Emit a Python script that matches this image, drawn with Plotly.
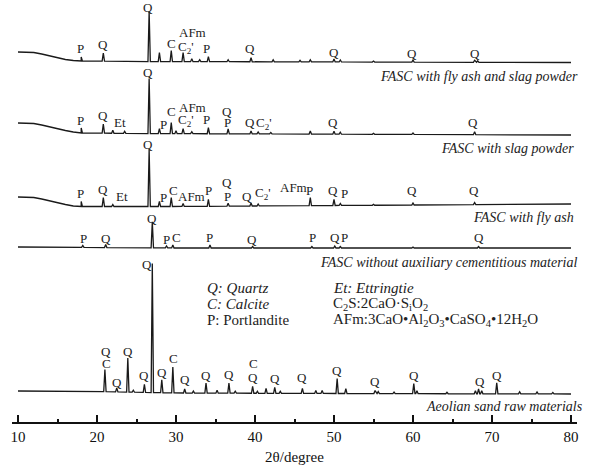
import numpy as np
import plotly.graph_objects as go

# ---------------- data (2θ in degrees, intensity in arbitrary stacked units) ----------------
tick_vals = [10, 20, 30, 40, 50, 60, 70, 80]

# 1) FASC with fly ash and slag powder
fs_base_x = [10, 12, 13, 14, 15, 16, 17, 18, 25, 80]
fs_base_y = [370, 369.5, 368, 366, 364, 362.5, 361.5, 361, 360.5, 359.5]
fs_peak_x = [18.0, 20.8, 26.6, 27.9, 29.4, 30.9, 32.0, 33.0, 34.1, 36.6, 39.5, 42.3, 45.7, 47.0, 50.0, 50.8, 55.0, 60.0, 67.8, 68.2]
fs_peak_h = [4, 8, 50, 9, 11, 9, 3, 2, 5, 2, 4, 2, 1.5, 2, 3, 2, 1, 2, 2, 1.5]

# 2) FASC with slag powder
sp_base_x = [10, 12, 13, 14, 15, 16, 17, 18, 25, 80]
sp_base_y = [299, 298.5, 297, 295, 293, 291.5, 290, 289, 288.5, 287]
sp_peak_x = [18.0, 20.8, 22.0, 23.5, 26.6, 27.9, 29.4, 30.0, 30.9, 32.0, 34.1, 36.6, 39.5, 40.4, 42.0, 47.0, 50.0, 50.8, 55.0, 60.0, 67.8]
sp_peak_h = [5, 9, 3, 2, 55, 5, 11, 3, 5, 2, 6, 5, 3, 2, 1.5, 3, 3, 2, 1, 1.5, 3]

# 3) FASC with fly ash
fa_base_x = [10, 12, 13, 14, 15, 16, 17, 18, 30, 80]
fa_base_y = [225, 224.5, 223, 221, 219, 217.5, 216, 215.5, 215.5, 218]
fa_peak_x = [18.0, 20.8, 22.0, 26.6, 27.9, 29.4, 30.9, 34.1, 36.6, 39.5, 40.4, 47.0, 50.0, 50.8, 55.0, 60.0, 67.8]
fa_peak_h = [5, 9, 2, 57, 5, 9, 3, 7, 3, 3, 2, 8, 6, 2, 1, 2, 2]

# 4) FASC without auxiliary cementitious material
wo_base_x = [10, 30, 80]
wo_base_y = [175, 174, 174]
wo_peak_x = [18.2, 21.1, 27.0, 28.8, 29.6, 34.3, 39.7, 47.2, 50.1, 50.8, 60.0, 68.3]
wo_peak_h = [2, 3, 26, 2, 3, 3, 1.5, 1.5, 2, 1.5, 1, 1.5]

# 5) Aeolian sand raw materials
as_base_x = [10, 20, 30, 50, 80]
as_base_y = [31, 30.5, 29, 28.5, 28]
as_peak_x = [21.0, 22.5, 23.9, 24.6, 26.0, 27.0, 28.2, 29.6, 31.1, 32.2, 33.8, 35.2, 36.7, 37.5, 39.7, 40.3,
             41.4, 42.5, 43.2, 46.0, 47.7, 48.5, 50.4, 51.5, 55.2, 55.6, 57.6, 60.1, 60.5, 64.3, 67.9, 68.3,
             68.7, 70.6, 73.5, 75.7, 77.7]
as_peak_h = [22, 4, 34, 2, 8, 129, 13, 26, 4, 2, 10, 3, 10, 2, 7, 2,
             5, 6, 2, 5, 3, 3, 15, 5, 3, 2, 1.5, 10, 3, 1.5, 3, 5,
             3, 11, 2, 2, 1.5]

series_names = ["FASC with fly ash and slag powder", "FASC with slag powder", "FASC with fly ash",
                "FASC without auxiliary cementitious material", "Aeolian sand raw materials"]

C2p = "C<sub>2</sub>'"
# phase labels: (text, 2θ, level)
fs_labels = [("P", 17.97, 374), ("Q", 20.76, 378), ("Q", 26.46, 415), ("C", 29.37, 379), ("C<sub>2</sub>'", 31.3, 375),
             ("AFm", 32.15, 390), ("P", 33.92, 374), ("Q", 39.37, 374), ("Q", 50.0, 370), ("Q", 59.87, 369),
             ("Q", 67.85, 369)]
sp_labels = [("P", 17.85, 302), ("Q", 20.76, 307), ("Et", 22.9, 300), ("Q", 26.46, 350), ("P", 28.48, 298),
             ("C", 29.37, 311), ("AFm", 32.15, 315), (C2p, 31.3, 302), ("P", 33.92, 303), ("Q", 36.46, 311),
             ("P", 36.46, 300), ("Q", 39.37, 300), (C2p, 41.1, 299), ("Q", 49.87, 300), ("Q", 67.6, 300)]
fa_labels = [("P", 17.85, 229), ("Q", 20.76, 233), ("Et", 23.16, 226), ("Q", 26.46, 278), ("P", 28.48, 225),
             ("C", 29.62, 232), ("AFm", 32.0, 226), ("P", 34.05, 232), ("Q", 36.46, 240), ("P", 36.46, 226),
             ("Q", 38.99, 226), (C2p, 41.0, 229), ("AFm", 44.81, 235), ("P", 46.96, 232), ("Q", 49.87, 232),
             ("P", 51.27, 229), ("Q", 59.87, 232), ("Q", 67.72, 232)]
wo_labels = [("P", 18.23, 184), ("Q", 21.14, 184), ("Q", 26.96, 204), ("P", 28.8, 183), ("C", 30.1, 185),
             ("P", 34.3, 185), ("Q", 39.62, 183), ("P", 47.34, 185), ("Q", 50.13, 185), ("P", 51.27, 185),
             ("Q", 68.35, 185)]
as_labels = [("Q", 21.14, 71), ("C", 21.14, 59), ("Q", 22.53, 40), ("Q", 23.92, 71), ("Q", 25.95, 47),
             ("Q", 26.33, 158), ("Q", 28.23, 50), ("C", 29.62, 64), ("Q", 31.14, 43), ("Q", 33.8, 47),
             ("Q", 36.71, 48), ("C", 39.75, 59), ("Q", 39.75, 45), ("Q", 42.53, 44), ("Q", 45.95, 45),
             ("Q", 50.38, 52), ("Q", 55.19, 41), ("Q", 60.13, 47), ("Q", 68.48, 41), ("Q", 70.63, 47)]

legend_left = ["<i>Q: Quartz</i>", "<i>C: Calcite</i>", "P: Portlandite"]
legend_right = ["<i>Et: Ettringtie</i>", "C<sub>2</sub>S:2CaO·S<sub>i</sub>O<sub>2</sub>",
                "AFm:3CaO•Al<sub>2</sub>O<sub>3</sub>•CaSO<sub>4</sub>•12H<sub>2</sub>O"]

# ---------------- build figure ----------------
SERIF = "Liberation Serif, Times New Roman, serif"
HALF_W = 0.15


def pattern(bx, by, px, ph):
    xs = list(bx)
    ys = list(by)
    for p, h in zip(px, ph):
        for dx, dh in ((-HALF_W, 0.0), (0.0, h), (HALF_W, 0.0)):
            x = p + dx
            xs.append(x)
            ys.append(float(np.interp(x, bx, by)) + dh)
    order = np.argsort(xs, kind="stable")
    return np.array(xs)[order], np.array(ys)[order]


fig = go.Figure()
datasets = [(fs_base_x, fs_base_y, fs_peak_x, fs_peak_h),
            (sp_base_x, sp_base_y, sp_peak_x, sp_peak_h),
            (fa_base_x, fa_base_y, fa_peak_x, fa_peak_h),
            (wo_base_x, wo_base_y, wo_peak_x, wo_peak_h),
            (as_base_x, as_base_y, as_peak_x, as_peak_h)]
for name, d in zip(series_names, datasets):
    x, y = pattern(*d)
    fig.add_trace(go.Scatter(x=x, y=y, mode="lines", name=name,
                             line=dict(color="#1a1a1a", width=1.3), showlegend=False))

ann = []
for labels in (fs_labels, sp_labels, fa_labels, wo_labels, as_labels):
    for t, x, y in labels:
        ann.append(dict(x=x, y=y, xref="x", yref="y", text=t, showarrow=False,
                        xanchor="center", yanchor="middle",
                        font=dict(family=SERIF, size=13, color="#222")))

# series names (right aligned, italic)
name_pos = [(1.006, 346), (0.998, 274), (0.998, 205), (1.003, 160), (1.014, 16)]
for n, (xp, y) in zip(series_names, name_pos):
    ann.append(dict(x=xp, y=y, xref="paper", yref="y", text="<i>" + n + "</i>", showarrow=False,
                    xanchor="right", yanchor="middle",
                    font=dict(family=SERIF, size=14, color="#222")))

for i, t in enumerate(legend_left):
    ann.append(dict(x=0.342, y=134 - 16 * i, xref="paper", yref="y", text=t, showarrow=False,
                    xanchor="left", yanchor="middle", font=dict(family=SERIF, size=15, color="#222")))
for i, t in enumerate(legend_right):
    ann.append(dict(x=0.565, y=134 - 16 * i, xref="paper", yref="y", text=t, showarrow=False,
                    xanchor="left", yanchor="middle", font=dict(family=SERIF, size=15, color="#222")))

fig.update_layout(
    width=594, height=466,
    margin=dict(l=12, r=17, t=0, b=44),
    paper_bgcolor="white", plot_bgcolor="white",
    annotations=ann,
    xaxis=dict(range=[9.24, 80.76], tickvals=tick_vals, showgrid=False, zeroline=False,
               showline=True, linecolor="#111", linewidth=2,
               ticks="inside", ticklen=7, tickwidth=1.5, tickcolor="#111",
               minor=dict(ticks="inside", ticklen=3, tickwidth=1.5, tickcolor="#111", dtick=5, tick0=5,
                          showgrid=False),
               tickfont=dict(family=SERIF, size=15, color="#111"),
               automargin=False,
               title=dict(text="2θ/degree", font=dict(family=SERIF, size=15, color="#111"), standoff=7)),
    yaxis=dict(range=[0, 422], visible=False, showgrid=False, zeroline=False),
)

fig.write_html("out.html", config={"displayModeBar": False},
               post_script="document.body.style.margin='0';document.body.style.padding='0';")
